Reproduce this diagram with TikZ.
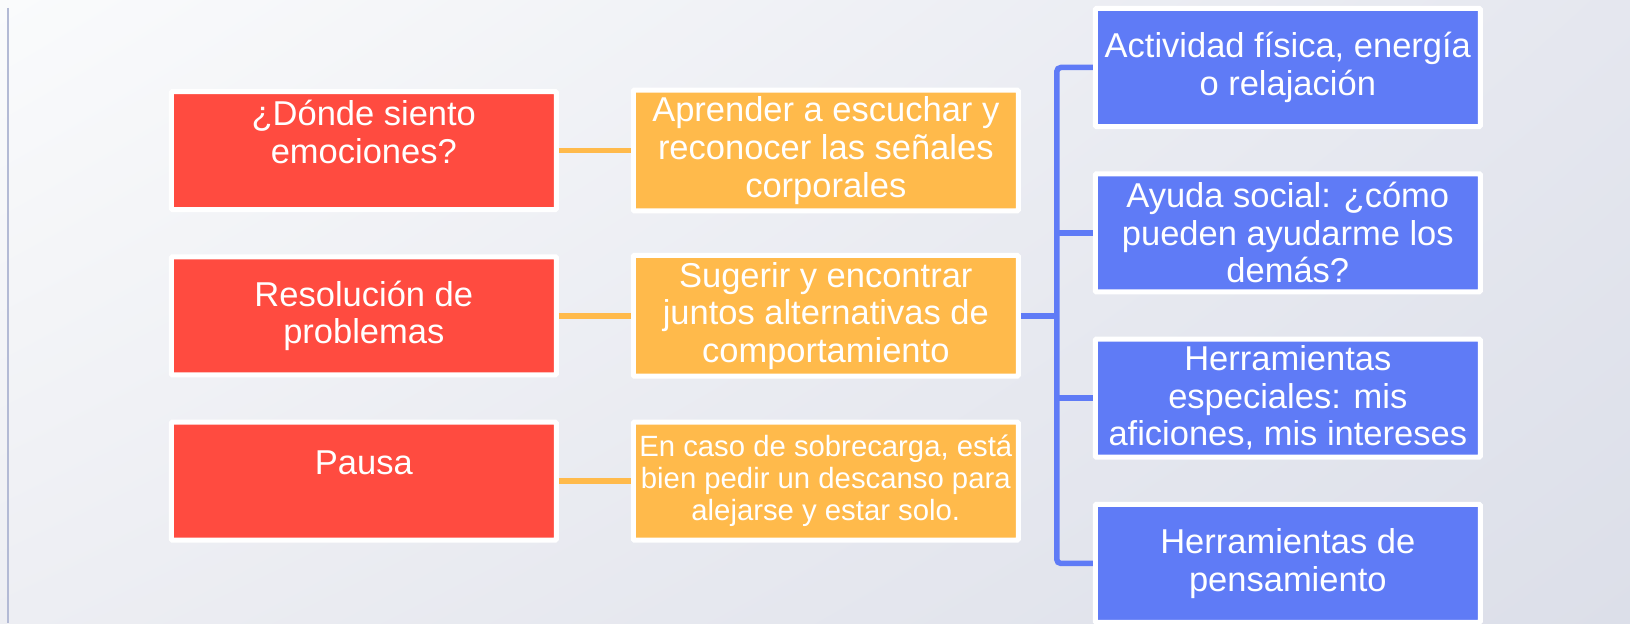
\documentclass[tikz,border=0pt]{standalone}
\usepackage{fontspec}
\setmainfont{Liberation Sans}
\usepackage{xcolor}
\definecolor{boxred}{HTML}{FF4B40}
\definecolor{boxorange}{HTML}{FFBA4B}
\definecolor{boxblue}{HTML}{5F7BF6}
\definecolor{sideline}{HTML}{B3BAD5}
\definecolor{bgtl}{HTML}{FAFBFC}
\definecolor{bgtr}{HTML}{E5E7EF}
\definecolor{bgbl}{HTML}{EDEEF3}
\definecolor{bgbr}{HTML}{DCDFE9}
\usetikzlibrary{positioning,shadings}

\begin{document}
\begin{tikzpicture}[
        node distance=21.15pt and 36pt,
        box/.style={rectangle, draw=white, line width=2.5pt, rounded corners=0.5pt, minimum width=192.5pt, minimum height=59pt, inner xsep=2pt, align=center, text=white, font=\fontsize{17.25pt}{18.8pt}\selectfont},
        redbox/.style={box, fill=boxred},
        orangebox/.style={box, fill=boxorange},
        bluebox/.style={box, fill=boxblue},
        smalltext/.style={font=\fontsize{14.65pt}{16pt}\selectfont},
        orangelink/.style={draw=boxorange, line width=2.75pt},
        bluelink/.style={draw=boxblue, line width=2.75pt}
    ]
        % Background
        \shade[upper left=bgtl, upper right=bgtr, lower left=bgbl, lower right=bgbr] (0,0) rectangle (815pt,311.5pt);
        \useasboundingbox (0,0) rectangle (815pt,311.5pt);
        \coordinate (sidetop) at (4.15pt,307.5pt);
        \coordinate (sidebottom) at (4.15pt,0);
        \draw[sideline, line width=1.1pt] (sidetop) -- (sidebottom);

        % Left column
        \node[redbox] (donde) at (181.9pt,236.25pt) {¿Dónde siento\\emociones?\\~};
        \node[redbox, below=of donde] (resolucion) {Resolución de\\problemas};
        \node[redbox, below=of resolucion] (pausa) {Pausa\\~};

        % Middle column
        \node[orangebox, right=of donde] (aprender) {Aprender a escuchar y\\reconocer las señales\\corporales};
        \node[orangebox, right=of resolucion] (sugerir) {Sugerir y encontrar\\juntos alternativas de\\comportamiento};
        \node[orangebox, smalltext, right=of pausa] (sobrecarga) {En caso de sobrecarga, está\\bien pedir un descanso para\\alejarse y estar solo.};

        % Right column
        \node[bluebox, right=of aprender, yshift=41.5pt] (actividad) {Actividad física, energía\\o relajación};
        \node[bluebox, below=of actividad] (ayuda) {Ayuda social: ¿cómo\\pueden ayudarme los\\demás?};
        \node[bluebox, below=of ayuda] (especiales) {Herramientas\\especiales: mis\\aficiones, mis intereses};
        \node[bluebox, below=of especiales] (pensamiento) {Herramientas de\\pensamiento};

        % Links
        \draw[orangelink] (donde.east) -- (aprender.west);
        \draw[orangelink] (resolucion.east) -- (sugerir.west);
        \draw[orangelink] (pausa.east) -- (sobrecarga.west);

        \coordinate[right=18pt of sugerir.east] (hub);
        \draw[bluelink] (sugerir.east) -- (hub);
        \draw[bluelink, rounded corners=2pt] (actividad.west) -| (hub |- pensamiento.west) -- (pensamiento.west);
        \draw[bluelink] (hub |- ayuda.west) -- (ayuda.west);
        \draw[bluelink] (hub |- especiales.west) -- (especiales.west);

    \end{tikzpicture}
\end{document}
